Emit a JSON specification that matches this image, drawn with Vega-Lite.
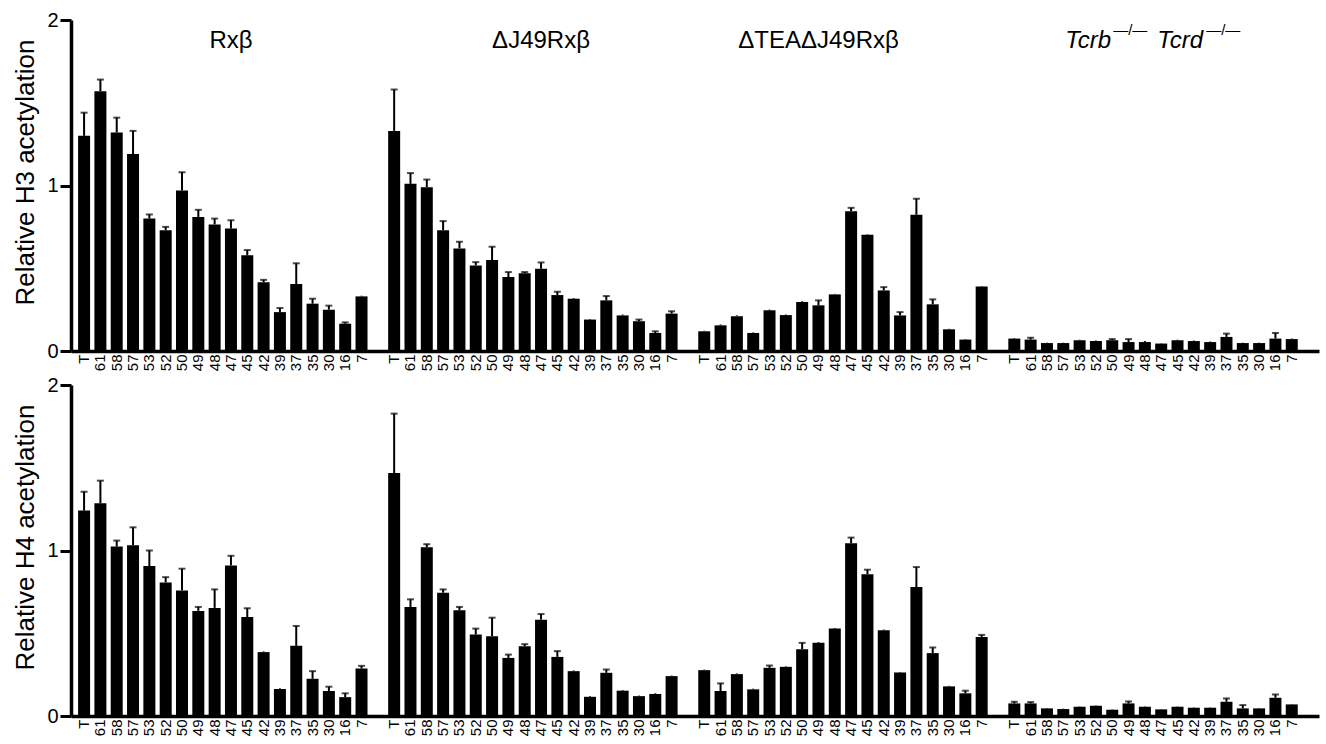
{
  "$schema": "https://vega.github.io/schema/vega-lite/v6.json",
  "padding": {"left": 12, "top": 10, "right": 5, "bottom": 5},
  "background": "white",
  "config": {
    "view": {"stroke": null},
    "font": "Liberation Sans",
    "axis": {"grid": false, "domainColor": "black", "domainWidth": 3, "tickColor": "black", "labelColor": "black", "titleColor": "black", "labelFont": "Liberation Sans", "titleFont": "Liberation Sans"},
    "axisY": {"labelOverlap": false, "labelFlush": false, "labelFontSize": 20, "labelPadding": 2},
    "concat": {"spacing": 34}
  },
  "datasets": {
    "bars": [
      {"p":"H3","k":"1-T","v":1.30,"h":1.44},{"p":"H3","k":"1-61","v":1.57,"h":1.64},{"p":"H3","k":"1-58","v":1.32,"h":1.41},{"p":"H3","k":"1-57","v":1.19,"h":1.33},{"p":"H3","k":"1-53","v":0.80,"h":0.825},{"p":"H3","k":"1-52","v":0.73,"h":0.75},{"p":"H3","k":"1-50","v":0.97,"h":1.08},{"p":"H3","k":"1-49","v":0.81,"h":0.853},{"p":"H3","k":"1-48","v":0.765,"h":0.80},{"p":"H3","k":"1-47","v":0.74,"h":0.79},{"p":"H3","k":"1-45","v":0.578,"h":0.61},{"p":"H3","k":"1-42","v":0.416,"h":0.43},{"p":"H3","k":"1-39","v":0.235,"h":0.26},{"p":"H3","k":"1-37","v":0.405,"h":0.53},{"p":"H3","k":"1-35","v":0.286,"h":0.316},{"p":"H3","k":"1-30","v":0.25,"h":0.274},{"p":"H3","k":"1-16","v":0.165,"h":0.173},{"p":"H3","k":"1-7","v":0.33,"h":0.334},
      {"p":"H3","k":"2-T","v":1.33,"h":1.58},{"p":"H3","k":"2-61","v":1.01,"h":1.075},{"p":"H3","k":"2-58","v":0.99,"h":1.036},{"p":"H3","k":"2-57","v":0.73,"h":0.785},{"p":"H3","k":"2-53","v":0.62,"h":0.66},{"p":"H3","k":"2-52","v":0.517,"h":0.537},{"p":"H3","k":"2-50","v":0.55,"h":0.63},{"p":"H3","k":"2-49","v":0.447,"h":0.477},{"p":"H3","k":"2-48","v":0.47,"h":0.477},{"p":"H3","k":"2-47","v":0.497,"h":0.535},{"p":"H3","k":"2-45","v":0.338,"h":0.358},{"p":"H3","k":"2-42","v":0.316,"h":0.32},{"p":"H3","k":"2-39","v":0.19,"h":0.193},{"p":"H3","k":"2-37","v":0.306,"h":0.332},{"p":"H3","k":"2-35","v":0.215,"h":0.22},{"p":"H3","k":"2-30","v":0.18,"h":0.19},{"p":"H3","k":"2-16","v":0.109,"h":0.119},{"p":"H3","k":"2-7","v":0.226,"h":0.24},
      {"p":"H3","k":"3-T","v":0.119,"h":0.122},{"p":"H3","k":"3-61","v":0.155,"h":0.16},{"p":"H3","k":"3-58","v":0.21,"h":0.215},{"p":"H3","k":"3-57","v":0.109,"h":0.112},{"p":"H3","k":"3-53","v":0.246,"h":0.25},{"p":"H3","k":"3-52","v":0.217,"h":0.22},{"p":"H3","k":"3-50","v":0.296,"h":0.30},{"p":"H3","k":"3-49","v":0.276,"h":0.306},{"p":"H3","k":"3-48","v":0.342,"h":0.345},{"p":"H3","k":"3-47","v":0.845,"h":0.865},{"p":"H3","k":"3-45","v":0.702,"h":0.705},{"p":"H3","k":"3-42","v":0.366,"h":0.386},{"p":"H3","k":"3-39","v":0.215,"h":0.235},{"p":"H3","k":"3-37","v":0.823,"h":0.92},{"p":"H3","k":"3-35","v":0.282,"h":0.312},{"p":"H3","k":"3-30","v":0.131,"h":0.134},{"p":"H3","k":"3-16","v":0.069,"h":0.072},{"p":"H3","k":"3-7","v":0.39,"h":0.393},
      {"p":"H3","k":"4-T","v":0.075,"h":0.078},{"p":"H3","k":"4-61","v":0.069,"h":0.08},{"p":"H3","k":"4-58","v":0.048,"h":0.05},{"p":"H3","k":"4-57","v":0.048,"h":0.05},{"p":"H3","k":"4-53","v":0.065,"h":0.068},{"p":"H3","k":"4-52","v":0.06,"h":0.063},{"p":"H3","k":"4-50","v":0.065,"h":0.072},{"p":"H3","k":"4-49","v":0.054,"h":0.072},{"p":"H3","k":"4-48","v":0.054,"h":0.06},{"p":"H3","k":"4-47","v":0.045,"h":0.047},{"p":"H3","k":"4-45","v":0.065,"h":0.068},{"p":"H3","k":"4-42","v":0.06,"h":0.063},{"p":"H3","k":"4-39","v":0.054,"h":0.057},{"p":"H3","k":"4-37","v":0.085,"h":0.105},{"p":"H3","k":"4-35","v":0.048,"h":0.05},{"p":"H3","k":"4-30","v":0.048,"h":0.05},{"p":"H3","k":"4-16","v":0.075,"h":0.109},{"p":"H3","k":"4-7","v":0.072,"h":0.075},
      {"p":"H4","k":"1-T","v":1.241,"h":1.355},{"p":"H4","k":"1-61","v":1.285,"h":1.422},{"p":"H4","k":"1-58","v":1.024,"h":1.06},{"p":"H4","k":"1-57","v":1.032,"h":1.14},{"p":"H4","k":"1-53","v":0.906,"h":1.0},{"p":"H4","k":"1-52","v":0.807,"h":0.839},{"p":"H4","k":"1-50","v":0.759,"h":0.89},{"p":"H4","k":"1-49","v":0.635,"h":0.659},{"p":"H4","k":"1-48","v":0.653,"h":0.765},{"p":"H4","k":"1-47","v":0.91,"h":0.968},{"p":"H4","k":"1-45","v":0.598,"h":0.651},{"p":"H4","k":"1-42","v":0.386,"h":0.39},{"p":"H4","k":"1-39","v":0.163,"h":0.167},{"p":"H4","k":"1-37","v":0.424,"h":0.544},{"p":"H4","k":"1-35","v":0.225,"h":0.271},{"p":"H4","k":"1-30","v":0.151,"h":0.177},{"p":"H4","k":"1-16","v":0.114,"h":0.137},{"p":"H4","k":"1-7","v":0.287,"h":0.303},
      {"p":"H4","k":"2-T","v":1.468,"h":1.827},{"p":"H4","k":"2-61","v":0.659,"h":0.705},{"p":"H4","k":"2-58","v":1.02,"h":1.038},{"p":"H4","k":"2-57","v":0.745,"h":0.765},{"p":"H4","k":"2-53","v":0.639,"h":0.659},{"p":"H4","k":"2-52","v":0.492,"h":0.528},{"p":"H4","k":"2-50","v":0.482,"h":0.594},{"p":"H4","k":"2-49","v":0.351,"h":0.371},{"p":"H4","k":"2-48","v":0.422,"h":0.434},{"p":"H4","k":"2-47","v":0.582,"h":0.616},{"p":"H4","k":"2-45","v":0.357,"h":0.392},{"p":"H4","k":"2-42","v":0.271,"h":0.275},{"p":"H4","k":"2-39","v":0.116,"h":0.12},{"p":"H4","k":"2-37","v":0.261,"h":0.281},{"p":"H4","k":"2-35","v":0.153,"h":0.157},{"p":"H4","k":"2-30","v":0.12,"h":0.123},{"p":"H4","k":"2-16","v":0.133,"h":0.137},{"p":"H4","k":"2-7","v":0.241,"h":0.244},
      {"p":"H4","k":"3-T","v":0.277,"h":0.28},{"p":"H4","k":"3-61","v":0.151,"h":0.197},{"p":"H4","k":"3-58","v":0.253,"h":0.257},{"p":"H4","k":"3-57","v":0.161,"h":0.165},{"p":"H4","k":"3-53","v":0.291,"h":0.305},{"p":"H4","k":"3-52","v":0.297,"h":0.30},{"p":"H4","k":"3-50","v":0.404,"h":0.442},{"p":"H4","k":"3-49","v":0.442,"h":0.446},{"p":"H4","k":"3-48","v":0.528,"h":0.532},{"p":"H4","k":"3-47","v":1.044,"h":1.078},{"p":"H4","k":"3-45","v":0.857,"h":0.884},{"p":"H4","k":"3-42","v":0.518,"h":0.522},{"p":"H4","k":"3-39","v":0.263,"h":0.266},{"p":"H4","k":"3-37","v":0.779,"h":0.9},{"p":"H4","k":"3-35","v":0.38,"h":0.414},{"p":"H4","k":"3-30","v":0.179,"h":0.182},{"p":"H4","k":"3-16","v":0.137,"h":0.153},{"p":"H4","k":"3-7","v":0.478,"h":0.49},
      {"p":"H4","k":"4-T","v":0.076,"h":0.086},{"p":"H4","k":"4-61","v":0.076,"h":0.084},{"p":"H4","k":"4-58","v":0.046,"h":0.048},{"p":"H4","k":"4-57","v":0.042,"h":0.044},{"p":"H4","k":"4-53","v":0.056,"h":0.058},{"p":"H4","k":"4-52","v":0.062,"h":0.064},{"p":"H4","k":"4-50","v":0.038,"h":0.04},{"p":"H4","k":"4-49","v":0.076,"h":0.088},{"p":"H4","k":"4-48","v":0.056,"h":0.058},{"p":"H4","k":"4-47","v":0.04,"h":0.042},{"p":"H4","k":"4-45","v":0.056,"h":0.058},{"p":"H4","k":"4-42","v":0.05,"h":0.052},{"p":"H4","k":"4-39","v":0.05,"h":0.052},{"p":"H4","k":"4-37","v":0.086,"h":0.106},{"p":"H4","k":"4-35","v":0.046,"h":0.066},{"p":"H4","k":"4-30","v":0.046,"h":0.048},{"p":"H4","k":"4-16","v":0.11,"h":0.13},{"p":"H4","k":"4-7","v":0.07,"h":0.072}
    ]
  },
  "vconcat": [
    {
      "width": 1248, "height": 331,
      "layer": [
        {
          "data": {"name": "bars"},
          "transform": [{"filter": "datum.p === 'H3'"}],
          "layer": [
            {"mark": {"type": "bar", "color": "black"}},
            {"mark": {"type": "rule", "color": "black", "strokeWidth": 2}, "encoding": {"y2": {"field": "h"}}},
            {"transform": [{"filter": "datum.h - datum.v > 0.006"}], "mark": {"type": "tick", "color": "black", "size": 7, "thickness": 2}, "encoding": {"y": {"field": "h", "type": "quantitative"}}}
          ],
          "encoding": {
            "x": {"field": "k", "type": "nominal", "sort": null,
              "scale": {"type": "band", "domain": ["1-T","1-61","1-58","1-57","1-53","1-52","1-50","1-49","1-48","1-47","1-45","1-42","1-39","1-37","1-35","1-30","1-16","1-7","g1","2-T","2-61","2-58","2-57","2-53","2-52","2-50","2-49","2-48","2-47","2-45","2-42","2-39","2-37","2-35","2-30","2-16","2-7","g2","3-T","3-61","3-58","3-57","3-53","3-52","3-50","3-49","3-48","3-47","3-45","3-42","3-39","3-37","3-35","3-30","3-16","3-7","g3","4-T","4-61","4-58","4-57","4-53","4-52","4-50","4-49","4-48","4-47","4-45","4-42","4-39","4-37","4-35","4-30","4-16","4-7"], "paddingInner": 0.265, "paddingOuter": 0.868, "align": 0.25},
              "axis": {"title": null, "ticks": false, "domainWidth": 3.5, "labelAngle": -90, "labelFontSize": 15, "labelPadding": 3, "labelExpr": "indexof(datum.value, '-') > 0 ? split(datum.value, '-')[1] : ''"}},
            "y": {"field": "v", "type": "quantitative",
              "scale": {"domain": [0, 2], "nice": false},
              "axis": {"values": [0, 1, 2], "domainWidth": 3.5, "domainColor": "black", "ticks": true, "tickSize": 11, "tickWidth": 3, "tickColor": "black", "labelExpr": "datum.value == 0 ? '0' : datum.value == 1 ? '1' : '2'", "title": "Relative H3 acetylation", "titleFontSize": 26, "titleFontWeight": "normal", "titlePadding": 8, "titleY": 152, "zindex": 2}}
          }
        },
        {
          "data": {"values": [{"k": "1-47", "t": "Rxβ", "y": 1.83}, {"k": "2-47", "t": "ΔJ49Rxβ", "y": 1.83}, {"k": "3-49", "t": "ΔTEAΔJ49Rxβ", "y": 1.83}]},
          "mark": {"type": "text", "fontSize": 24, "baseline": "alphabetic", "align": "center", "color": "black"},
          "encoding": {"x": {"field": "k", "type": "nominal"}, "y": {"field": "y", "type": "quantitative"}, "text": {"field": "t"}}
        },
        {
          "data": {"values": [{"k": "4-47", "t": "Tcrb", "y": 1.83}]},
          "mark": {"type": "text", "fontSize": 24, "fontStyle": "italic", "baseline": "alphabetic", "align": "left", "dx": -96, "color": "black"},
          "encoding": {"x": {"field": "k", "type": "nominal"}, "y": {"field": "y", "type": "quantitative"}, "text": {"field": "t"}}
        },
        {
          "data": {"values": [{"k": "4-47", "t": "—/—", "y": 1.83}]},
          "mark": {"type": "text", "fontSize": 15, "baseline": "alphabetic", "align": "left", "dx": -48, "dy": -13, "color": "black"},
          "encoding": {"x": {"field": "k", "type": "nominal"}, "y": {"field": "y", "type": "quantitative"}, "text": {"field": "t"}}
        },
        {
          "data": {"values": [{"k": "4-47", "t": "Tcrd", "y": 1.83}]},
          "mark": {"type": "text", "fontSize": 24, "fontStyle": "italic", "baseline": "alphabetic", "align": "left", "dx": -4, "color": "black"},
          "encoding": {"x": {"field": "k", "type": "nominal"}, "y": {"field": "y", "type": "quantitative"}, "text": {"field": "t"}}
        },
        {
          "data": {"values": [{"k": "4-47", "t": "—/—", "y": 1.83}]},
          "mark": {"type": "text", "fontSize": 15, "baseline": "alphabetic", "align": "left", "dx": 45, "dy": -13, "color": "black"},
          "encoding": {"x": {"field": "k", "type": "nominal"}, "y": {"field": "y", "type": "quantitative"}, "text": {"field": "t"}}
        }
      ]
    },
    {
      "width": 1248, "height": 331,
      "data": {"name": "bars"},
      "transform": [{"filter": "datum.p === 'H4'"}],
      "layer": [
        {"mark": {"type": "bar", "color": "black"}},
        {"mark": {"type": "rule", "color": "black", "strokeWidth": 2}, "encoding": {"y2": {"field": "h"}}},
        {"transform": [{"filter": "datum.h - datum.v > 0.006"}], "mark": {"type": "tick", "color": "black", "size": 7, "thickness": 2}, "encoding": {"y": {"field": "h", "type": "quantitative"}}}
      ],
      "encoding": {
        "x": {"field": "k", "type": "nominal", "sort": null,
          "scale": {"type": "band", "domain": ["1-T","1-61","1-58","1-57","1-53","1-52","1-50","1-49","1-48","1-47","1-45","1-42","1-39","1-37","1-35","1-30","1-16","1-7","g1","2-T","2-61","2-58","2-57","2-53","2-52","2-50","2-49","2-48","2-47","2-45","2-42","2-39","2-37","2-35","2-30","2-16","2-7","g2","3-T","3-61","3-58","3-57","3-53","3-52","3-50","3-49","3-48","3-47","3-45","3-42","3-39","3-37","3-35","3-30","3-16","3-7","g3","4-T","4-61","4-58","4-57","4-53","4-52","4-50","4-49","4-48","4-47","4-45","4-42","4-39","4-37","4-35","4-30","4-16","4-7"], "paddingInner": 0.265, "paddingOuter": 0.868, "align": 0.25},
          "axis": {"title": null, "ticks": false, "domainWidth": 3.5, "labelAngle": -90, "labelFontSize": 15, "labelPadding": 3, "labelExpr": "indexof(datum.value, '-') > 0 ? split(datum.value, '-')[1] : ''"}},
        "y": {"field": "v", "type": "quantitative",
          "scale": {"domain": [0, 2], "nice": false},
          "axis": {"values": [0, 1, 2], "domainWidth": 3.5, "domainColor": "black", "ticks": true, "tickSize": 11, "tickWidth": 3, "tickColor": "black", "labelExpr": "datum.value == 0 ? '0' : datum.value == 1 ? '1' : '2'", "title": "Relative H4 acetylation", "titleFontSize": 26, "titleFontWeight": "normal", "titlePadding": 8, "titleY": 152, "zindex": 2}}
      }
    }
  ],
  "bounds": "flush",
  "spacing": 34
}
